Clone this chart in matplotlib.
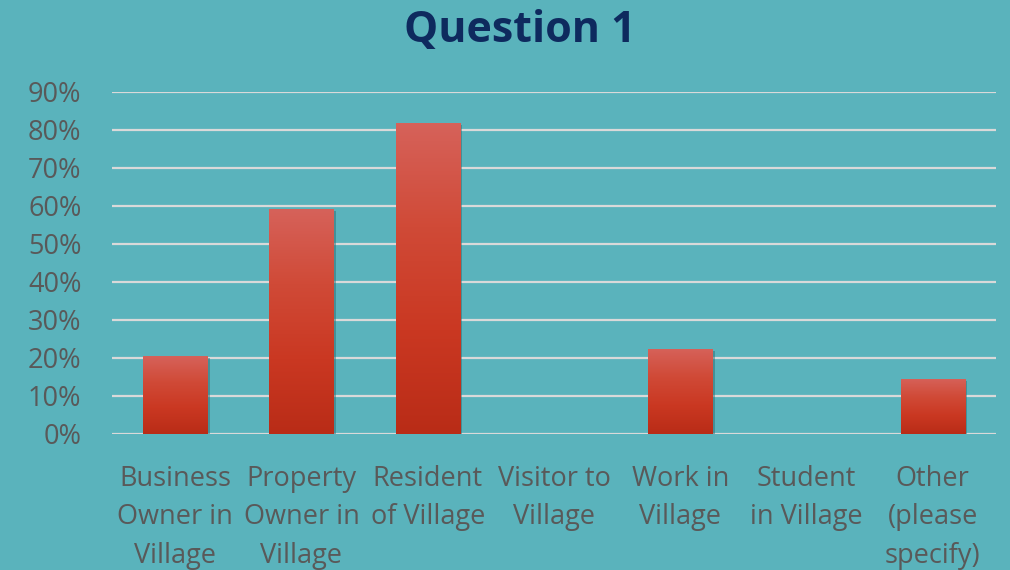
import numpy as np
import matplotlib.pyplot as plt
import matplotlib.patheffects as pe
from matplotlib.colors import LinearSegmentedColormap

plt.rcParams["font.family"] = ["Open Sans", "DejaVu Sans"]

categories = ["Business\nOwner in\nVillage", "Property\nOwner in\nVillage", "Resident\nof Village",
              "Visitor to\nVillage", "Work in\nVillage", "Student\nin Village", "Other\n(please\nspecify)"]
values = [0.205, 0.592, 0.818, 0.0, 0.224, 0.0, 0.145]
yticks = np.arange(0, 1.0, 0.1)

bg = "#5AB3BC"
fig = plt.figure(figsize=(10.1, 5.7), dpi=100, facecolor=bg)
ax = fig.add_axes([0.111, 0.2386, 0.875, 0.6], facecolor=bg)

x = np.arange(len(categories))
ax.set_xlim(-0.5, len(categories) - 0.5)
ax.set_ylim(0, 0.9)

for t in yticks:
    ax.axhline(t, color="#D9D9D9", lw=1.6, zorder=1)

cmap = LinearSegmentedColormap.from_list("bar", ["#B92C17", "#CA3822", "#D04A37", "#D6625A"])
grad = np.linspace(0, 1, 256).reshape(-1, 1)
bars = ax.bar(x, values, width=0.51, color="#C9371F", zorder=2,
              path_effects=[pe.SimplePatchShadow(offset=(1.5, -1.5), shadow_rgbFace="#2E6E75", alpha=0.5), pe.Normal()])
for b, v in zip(bars, values):
    if v <= 0:
        continue
    im = ax.imshow(grad, cmap=cmap, origin="lower", aspect="auto", zorder=3,
                   extent=(b.get_x(), b.get_x() + b.get_width(), 0, v))
    im.set_clip_path(b)

ax.set_xticks(x)
ax.set_xticklabels(categories, fontsize=19.5, color="#595959", linespacing=1.5)
ax.set_yticks(yticks)
ax.set_yticklabels([f"{int(round(t * 100))}%" for t in yticks], fontsize=19.5, color="#595959")
ax.tick_params(axis="both", length=0)
ax.tick_params(axis="x", pad=22)
ax.tick_params(axis="y", pad=22)
for s in ax.spines.values():
    s.set_visible(False)

fig.text(0.515, 0.947, "Question 1", ha="center", va="center", fontsize=31,
         fontweight="bold", color="#0E2A5E")

fig.savefig("out.png", dpi=100, facecolor=bg)
